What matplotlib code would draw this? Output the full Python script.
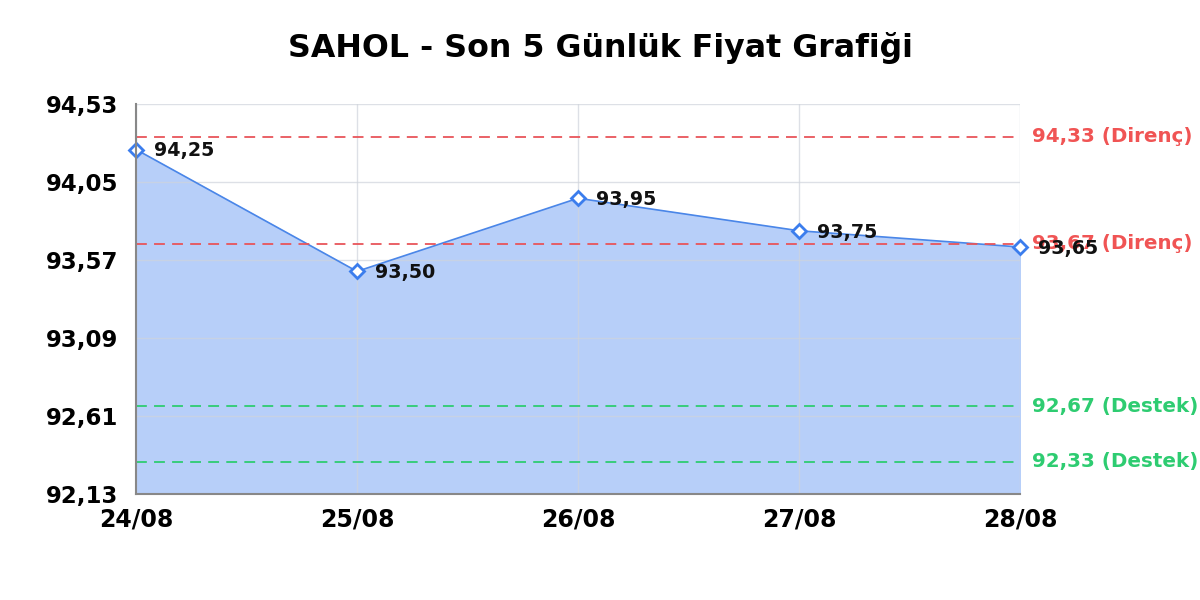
import matplotlib
matplotlib.use("Agg")
import matplotlib.pyplot as plt
import numpy as np

dates = ["24/08", "25/08", "26/08", "27/08", "28/08"]
prices = [94.25, 93.50, 93.95, 93.75, 93.65]
resistances = [94.33, 93.67]
supports = [92.67, 92.33]
yticks = [92.13, 92.61, 93.09, 93.57, 94.05, 94.53]
title = "SAHOL - Son 5 Günlük Fiyat Grafiği"

def fmt(v):
    return f"{v:.2f}".replace(".", ",")

plt.rcParams['font.family'] = ['DejaVu Sans']
fig = plt.figure(figsize=(12, 6), dpi=100)
ax = fig.add_axes([136/1200, 1-494/600, (1020-136)/1200, (494-104)/600])

x = np.arange(len(dates))
ymin, ymax = yticks[0], yticks[-1]
ax.set_xlim(x[0], x[-1])
ax.set_ylim(ymin, ymax)

ax.fill_between(x, prices, ymin, color="#b7cff9", zorder=1)
ax.plot(x, prices, color="#4a86e8", lw=1.2, zorder=3)
ax.plot(x, prices, linestyle="none", marker="D", markersize=7, markerfacecolor="white",
        markeredgecolor="#3b7ded", markeredgewidth=2, zorder=5, clip_on=False)

for xi, p in zip(x, prices):
    ax.annotate(fmt(p), (xi, p), xytext=(13, -1), textcoords="offset points",
                ha="left", va="center", fontsize=13.7, fontweight="bold", color="#111111", zorder=6,
                annotation_clip=False)

red = "#e8555a"
green = "#2ecc71"
for r in resistances:
    ax.axhline(r, color=red, lw=1.3, ls=(0, (6, 4)), zorder=4)
    ax.annotate(f"{fmt(r)} (Direnç)", (1, r), xycoords=("axes fraction", "data"),
                xytext=(9, 0), textcoords="offset points", ha="left", va="center",
                fontsize=14.3, fontweight="bold", color="#f05454", annotation_clip=False)
for s in supports:
    ax.axhline(s, color=green, lw=1.3, ls=(0, (6, 4)), zorder=4)
    ax.annotate(f"{fmt(s)} (Destek)", (1, s), xycoords=("axes fraction", "data"),
                xytext=(9, 0), textcoords="offset points", ha="left", va="center",
                fontsize=14.3, fontweight="bold", color="#2ecc71", annotation_clip=False)

ax.set_yticks(yticks)
ax.set_yticklabels([fmt(v) for v in yticks], fontsize=16.5, fontweight="bold")
ax.set_xticks(x)
ax.set_xticklabels(dates, fontsize=17, fontweight="bold")
ax.tick_params(axis="both", length=0)
ax.tick_params(axis="y", pad=12.5)
ax.tick_params(axis="x", pad=9.5)
ax.grid(True, color="#cfd4dc", lw=1, alpha=0.7, zorder=2)
ax.set_axisbelow(False)
for side in ["top", "right"]:
    ax.spines[side].set_visible(False)
for side in ["left", "bottom"]:
    ax.spines[side].set_color("#888888")
    ax.spines[side].set_linewidth(1.5)
    ax.spines[side].set_zorder(6)

fig.text(0.5, 1-48/600, title, ha="center", va="center", fontsize=22.8, fontweight="bold")

fig.savefig("out.png", dpi=100)
